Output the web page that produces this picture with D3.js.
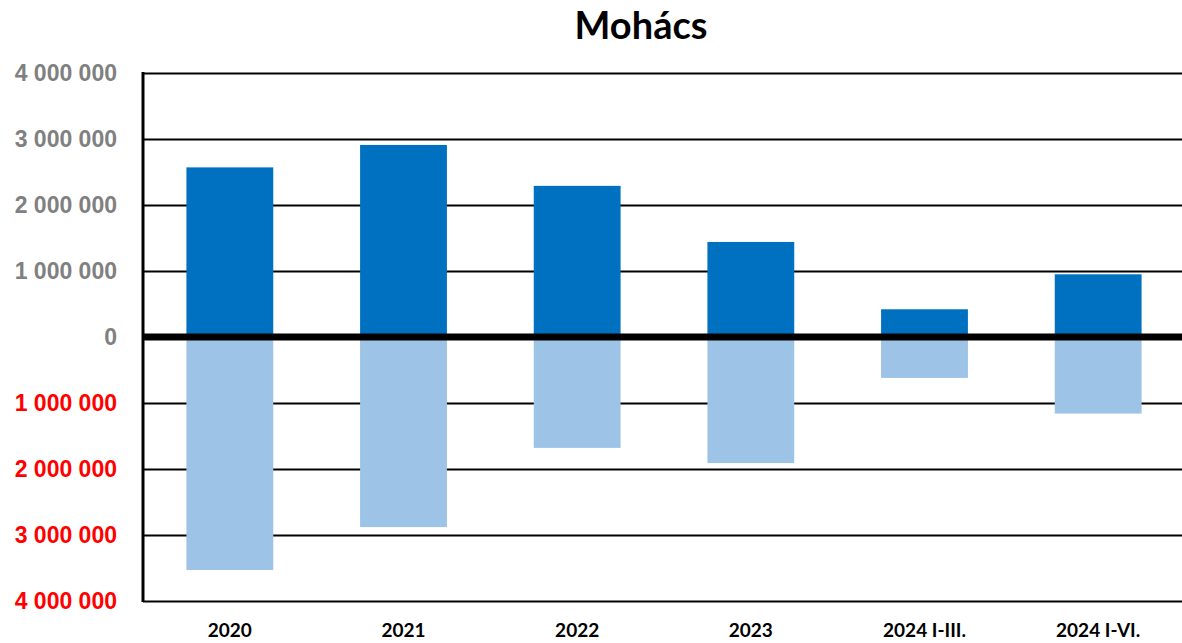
<!DOCTYPE html>
<html>
<head>
<meta charset="utf-8">
<script src="https://cdn.jsdelivr.net/npm/d3@7"></script>
<style>
  body { margin: 0; background: #fff; }
  svg { display: block; font-family: Lato, "Open Sans", sans-serif; }
</style>
</head>
<body>
<svg id="chart" width="1182" height="643"></svg>
<script>
const categories = ["2020", "2021", "2022", "2023", "2024 I-III.", "2024 I-VI."]
const positive = [2570000, 2910000, 2290000, 1440000, 420000, 950000]
const negative = [-3530000, -2880000, -1680000, -1910000, -620000, -1160000]
const yTicks = [-4000000, -3000000, -2000000, -1000000, 0, 1000000, 2000000, 3000000, 4000000]

const width = 1182
const height = 643
const margin = { top: 73, right: -3, bottom: 42, left: 143 }

const svg = d3.select("#chart")

const x = d3.scaleBand()
  .domain(categories)
  .range([margin.left, width - margin.right])
  .paddingInner(0.5)
  .paddingOuter(0.25)

const y = d3.scaleLinear()
  .domain([-4000000, 4000000])
  .range([height - margin.bottom, margin.top])

const fmt = d3.formatLocale({ decimal: ",", thousands: " ", grouping: [3], currency: ["", ""] }).format(",d")

// gridlines + labels
const yAxis = svg.append("g")
  .attr("transform", `translate(${margin.left},0)`)
  .call(d3.axisLeft(y)
    .tickValues(yTicks)
    .tickSize(-(width - margin.left))
    .tickPadding(26)
    .tickFormat(d => fmt(Math.abs(d))))

yAxis.select(".domain").remove()
yAxis.selectAll(".tick line")
  .attr("stroke", "#000")
  .attr("stroke-width", 2)
yAxis.selectAll(".tick text")
  .attr("fill", d => d < 0 ? "#ff0000" : "#808080")
  .style("font-size", "23px")
  .style("font-weight", "bold")

// bars
const rows = categories.map((c, i) => ({ cat: c, pos: positive[i], neg: negative[i] }))

svg.append("g").selectAll("rect.pos")
  .data(rows)
  .join("rect")
  .attr("class", "pos")
  .attr("x", d => x(d.cat))
  .attr("width", x.bandwidth())
  .attr("y", d => y(d.pos))
  .attr("height", d => y(0) - y(d.pos))
  .attr("fill", "#0070c0")

svg.append("g").selectAll("rect.neg")
  .data(rows)
  .join("rect")
  .attr("class", "neg")
  .attr("x", d => x(d.cat))
  .attr("width", x.bandwidth())
  .attr("y", y(0))
  .attr("height", d => y(d.neg) - y(0))
  .attr("fill", "#9dc3e6")

// left axis line
svg.append("line")
  .attr("x1", margin.left).attr("x2", margin.left)
  .attr("y1", y(4000000) - 1).attr("y2", y(-4000000) + 1)
  .attr("stroke", "#000")
  .attr("stroke-width", 3)

// zero line
svg.append("line")
  .attr("x1", margin.left).attr("x2", width)
  .attr("y1", y(0)).attr("y2", y(0))
  .attr("stroke", "#000")
  .attr("stroke-width", 7)

// x labels
svg.append("g").selectAll("text")
  .data(categories)
  .join("text")
  .attr("x", d => x(d) + x.bandwidth() / 2)
  .attr("y", 637)
  .attr("text-anchor", "middle")
  .style("font-size", "19px")
  .style("font-weight", "bold")
  .attr("fill", "#000")
  .text(d => d)

// title
svg.append("text")
  .attr("x", 641)
  .attr("y", 39)
  .attr("text-anchor", "middle")
  .style("font-size", "38px")
  .style("font-weight", "bold")
  .attr("fill", "#000")
  .text("Mohács")
</script>
</body>
</html>
